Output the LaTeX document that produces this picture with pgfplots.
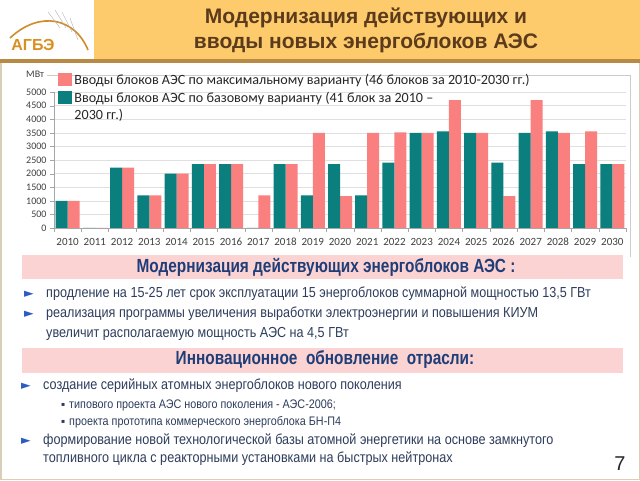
\documentclass[border=0pt]{standalone}
\usepackage{fontspec}
\setmainfont{Liberation Sans}
\newfontfamily\calfont{Carlito}
\newfontfamily\narrow[FakeStretch=0.87]{Liberation Sans}
\newfontfamily\headf[FakeStretch=0.81]{Liberation Sans Bold}
\newfontfamily\symf{DejaVu Sans}
\usepackage{pgfplots}
\pgfplotsset{compat=1.18}
\definecolor{teal1}{HTML}{0A7F7D}
\definecolor{pink1}{HTML}{FA8080}
\definecolor{hdr}{HTML}{FDCB6C}
\definecolor{hdrline}{HTML}{B98A45}
\definecolor{titlec}{HTML}{5C3B1C}
\definecolor{band}{HTML}{FCD3D3}
\definecolor{headblue}{HTML}{1F3E78}
\definecolor{txt}{HTML}{2E3D5C}
\definecolor{tri}{HTML}{2A5CC4}
\definecolor{frame}{HTML}{D8CFB8}
\definecolor{logoc}{HTML}{D8901E}
\definecolor{ticklab}{HTML}{404040}

\pgfplotstableread{
x teal pink
0 1000 1000
1 0 0
2 2220 2220
3 1200 1200
4 2000 2000
5 2350 2350
6 2350 2350
7 0 1200
8 2350 2350
9 1200 3500
10 2350 1170
11 1200 3500
12 2400 3520
13 3500 3500
14 3550 4700
15 3500 3500
16 2400 1170
17 3500 4700
18 3550 3500
19 2350 3550
20 2350 2350
}\datatable

\begin{document}
\begin{tikzpicture}[x=1pt,y=1pt]
\useasboundingbox (0,0) rectangle (640,480);
\fill[white] (0,0) rectangle (640,480);
% header
\fill[hdr] (94,421) rectangle (640,480);
\fill[hdrline] (0,417) rectangle (640,421);
\draw[frame,line width=1.5pt] (0.75,417) |- (639.25,0.75) -- (639.25,417);
% logo
\draw[logoc!70!brown, line width=1.6pt] (10,442) .. controls (40,470) and (75,462) .. (88,430);
\draw[gray!60, line width=0.4pt] (48,468) -- (60,452) (55,470) -- (66,452) (62,468) -- (72,448) (70,462) -- (78,440);
\node[font=\bfseries\fontsize{16}{18}\selectfont, text=logoc] at (33,435) {АГБЭ};
% title
\node[font=\bfseries\fontsize{21}{25}\selectfont, text=titlec] at (366,462) {Модернизация действующих и};
\node[font=\bfseries\fontsize{21}{25}\selectfont, text=titlec] at (366,437) {вводы новых энергоблоков АЭС};
% chart frame
\draw[gray!40] (47,405) -- (630,405) -- (630,223);

\begin{axis}[
  at={(54pt,252pt)}, anchor=south west,
  scale only axis, width=572pt, height=136pt,
  xmin=-0.5, xmax=20.5, ymin=0, ymax=5000,
  axis lines=left, axis line style={-, draw=gray!70},
  ytick={0,500,...,5000},
  xtick={0,...,20},
  xticklabels={2010,2011,2012,2013,2014,2015,2016,2017,2018,2019,2020,2021,2022,2023,2024,2025,2026,2027,2028,2029,2030},
  major x tick style={draw=none},
  minor xtick={-0.5,0.5,...,20.5},
  minor x tick style={draw=gray!70},
  tick align=outside, major tick length=4pt, minor tick length=4pt,
  ytick style={draw=gray!70},
  ymajorgrids, grid style={gray!25},
  yticklabel style={font=\calfont\fontsize{10}{12}\selectfont, text=ticklab},
  xticklabel style={font=\calfont\fontsize{11}{13}\selectfont, text=ticklab, anchor=north, text height=7.5pt, text depth=0pt, yshift=-2pt},
  scaled y ticks=false,
  /pgf/number format/assume math mode=true,
  /pgf/number format/1000 sep={},
  ybar, bar width=12pt,
  ylabel={МВт},
  every axis y label/.style={at={(axis description cs:-0.033,1.13)}, anchor=center, font=\calfont\fontsize{10}{12}\selectfont, text=ticklab},
  legend style={at={(axis description cs:0.004,1.15)}, anchor=north west, draw=none, fill=none,
    font=\calfont\fontsize{14.1}{17}\selectfont, text=black!85, row sep=4pt, inner xsep=2pt, inner ysep=1pt,
    nodes={inner ysep=1pt}},
  legend cell align=left,
]
\addplot[fill=pink1, draw=none, bar shift=6pt,
  legend image code/.code={\fill[pink1] (0pt,-6pt) rectangle (14pt,7pt);}] table[x=x, y=pink] {\datatable};
\addlegendentry{Вводы блоков АЭС по максимальному варианту  (46 блоков за 2010-2030 гг.)}
\addplot[fill=teal1, draw=none, bar shift=-6pt,
  legend image code/.code={\fill[teal1] (0pt,3pt) rectangle (14pt,16pt);}] table[x=x, y=teal] {\datatable};
\addlegendentry[align=left]{Вводы блоков АЭС по базовому варианту (41 блок за 2010 –\\2030 гг.)}
\end{axis}

% section 1
\fill[band] (22,201) rectangle (623,225);
\node[font=\headf\fontsize{19}{21}\selectfont, text=headblue] at (326,213) {Модернизация действующих энергоблоков АЭС :};
\begin{scope}[every node/.style={anchor=west, inner sep=0pt}]
\node[font=\symf\fontsize{12.5}{14}\selectfont, text=tri] at (24,186) {►};
\node[font=\narrow\fontsize{14.5}{16}\selectfont, text=txt] at (46,186) {продление на 15-25 лет срок эксплуатации 15 энергоблоков суммарной мощностью 13,5 ГВт};
\node[font=\symf\fontsize{12.5}{14}\selectfont, text=tri] at (24,166) {►};
\node[font=\narrow\fontsize{14.5}{16}\selectfont, text=txt] at (46,166) {реализация программы увеличения выработки электроэнергии и повышения КИУМ};
\node[font=\narrow\fontsize{14.5}{16}\selectfont, text=txt] at (46,146) {увеличит располагаемую мощность АЭС на 4,5 ГВт};
\end{scope}
% section 2
\fill[band] (22,107) rectangle (623,132);
\node[font=\headf\fontsize{19}{21}\selectfont, text=headblue] at (325,120) {Инновационное\ \ обновление\ \ отрасли:};
\begin{scope}[every node/.style={anchor=west, inner sep=0pt}]
\node[font=\symf\fontsize{12.5}{14}\selectfont, text=tri] at (21,94) {►};
\node[font=\narrow\fontsize{14.5}{16}\selectfont, text=txt] at (43,94) {создание серийных атомных энергоблоков нового поколения};
\node[font=\symf\fontsize{6}{8}\selectfont, text=txt] at (61,75) {▪};
\node[font=\narrow\fontsize{12.4}{14}\selectfont, text=txt] at (69,75) {типового проекта АЭС нового поколения - АЭС-2006;};
\node[font=\symf\fontsize{6}{8}\selectfont, text=txt] at (61,58) {▪};
\node[font=\narrow\fontsize{12.4}{14}\selectfont, text=txt] at (69,58) {проекта прототипа коммерческого энергоблока БН-П4};
\node[font=\symf\fontsize{12.5}{14}\selectfont, text=tri] at (21,39) {►};
\node[font=\narrow\fontsize{14.5}{16}\selectfont, text=txt] at (43,39) {формирование новой технологической базы атомной энергетики на основе замкнутого};
\node[font=\narrow\fontsize{14.5}{16}\selectfont, text=txt] at (43,21) {топливного цикла с реакторными установками на быстрых нейтронах};
\end{scope}
\node[font=\fontsize{20}{22}\selectfont, text=black!85] at (620,16) {7};
\end{tikzpicture}
\end{document}
